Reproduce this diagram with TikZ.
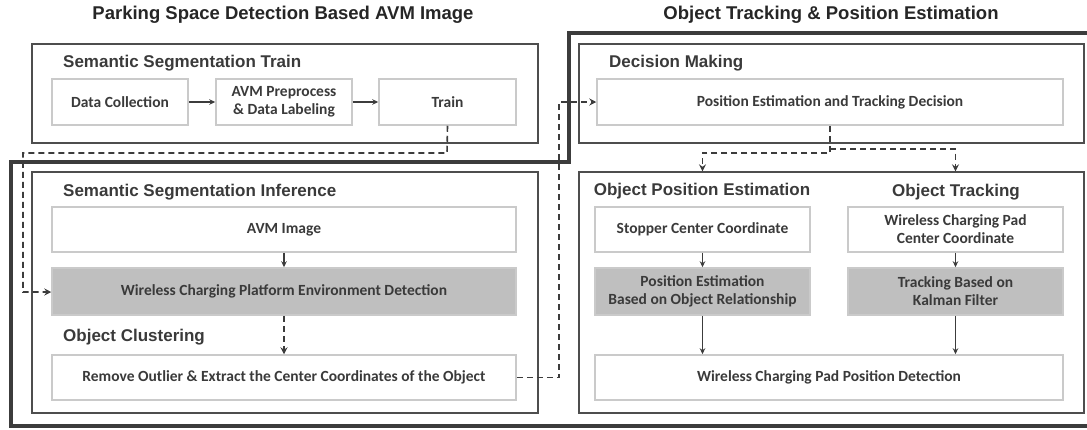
\documentclass[tikz,border=0pt]{standalone}
\usepackage{fontspec}
\setmainfont{Carlito}
\newfontfamily\arialfont{Liberation Sans}
\usetikzlibrary{arrows.meta}
\definecolor{thickc}{HTML}{3C3C3C}
\definecolor{grpc}{HTML}{4E4E4E}
\definecolor{iboxc}{HTML}{CACACA}
\definecolor{hfill}{HTML}{BFBFBF}
\definecolor{txtc}{HTML}{3A3A3A}
\tikzset{
  grp/.style={draw=grpc, line width=1.4pt, rectangle, inner sep=0pt},
  ibox/.style={draw=iboxc, line width=1.5pt, fill=white, rectangle, inner sep=0pt, align=center,
    text=txtc, font=\fontsize{15.5}{18}\selectfont\bfseries},
  hbox/.style={ibox, fill=hfill},
  gtitle/.style={text=txtc, inner sep=0pt, font=\arialfont\fontsize{17}{20}\selectfont\bfseries},
  mtitle/.style={text=black!85, inner sep=0pt, font=\arialfont\fontsize{18.5}{22}\selectfont\bfseries},
  arr/.style={draw=thickc, line width=1.2pt, -{Stealth[length=6pt,width=5.5pt]}},
  darr/.style={draw=thickc, line width=1.6pt, dash pattern=on 6pt off 4pt, -{Stealth[length=7pt,width=7pt,inset=2.5pt]}},
}
\begin{document}
\begin{tikzpicture}[x=1pt,y=-1pt]
\useasboundingbox (0,0) rectangle (1087,429);
% main titles
\node[mtitle] (t1) at (283,15) {Parking Space Detection Based AVM Image};
\node[mtitle] (t2) at (831,15) {Object Tracking \& Position Estimation};
% thick outline
\draw[thickc, line width=4pt, line join=miter] (11,162) -- (569,162) -- (569,33) -- (1100,33) -- (1100,426) -- (11,426) -- cycle;
% group boxes
\node[grp, minimum width=506pt, minimum height=99pt] (gtrain) at (285,93.5) {};
\node[grp, minimum width=506pt, minimum height=241pt] (ginf) at (285,292.5) {};
\node[grp, minimum width=505pt, minimum height=99pt] (gdec) at (831.5,93.5) {};
\node[grp, minimum width=505pt, minimum height=241pt] (grb) at (831.5,292.5) {};
% group titles
\node[gtitle, anchor=west] (tst) at (63,63) {Semantic Segmentation Train};
\node[gtitle, anchor=west] (tsi) at (63,192) {Semantic Segmentation Inference};
\node[gtitle, anchor=west] (toc) at (63,337) {Object Clustering};
\node[gtitle, anchor=west] (tdm) at (609,63) {Decision Making};
\node[gtitle] (tope) at (702,191) {Object Position Estimation};
\node[gtitle] (tot) at (956,192) {Object Tracking};
% inner boxes
\node[ibox, minimum width=136pt, minimum height=46pt] (dc) at (120,102) {Data Collection};
\node[ibox, minimum width=136pt, minimum height=46pt] (pre) at (284,102) {AVM Preprocess\\\& Data Labeling};
\node[ibox, minimum width=137pt, minimum height=46pt] (train) at (447.5,102) {Train};
\node[ibox, minimum width=464pt, minimum height=45pt] (avm) at (284,229.5) {AVM Image};
\node[hbox, minimum width=464pt, minimum height=47pt] (wcp) at (284,291.5) {Wireless Charging Platform Environment Detection};
\node[ibox, minimum width=464pt, minimum height=45pt] (rem) at (284,377.5) {Remove Outlier \& Extract the Center Coordinates of the Object};
\node[ibox, minimum width=466pt, minimum height=46pt] (ptd) at (830,102) {Position Estimation and Tracking Decision};
\node[ibox, minimum width=215pt, minimum height=45pt] (stop) at (702.5,229.5) {Stopper Center Coordinate};
\node[ibox, minimum width=215pt, minimum height=45pt] (wcpc) at (955.5,229.5) {Wireless Charging Pad\\Center Coordinate};
\node[hbox, minimum width=215pt, minimum height=47pt] (pe) at (702.5,291.5) {Position Estimation\\Based on Object Relationship};
\node[hbox, minimum width=215pt, minimum height=47pt] (tk) at (955.5,291.5) {Tracking Based on\\Kalman Filter};
\node[ibox, minimum width=468pt, minimum height=45pt] (fin) at (829,377.5) {Wireless Charging Pad Position Detection};
% solid arrows
\draw[arr] (dc) -- (pre);
\draw[arr] (pre) -- (train);
\draw[arr] (avm) -- (wcp);
\draw[arr] (stop) -- (pe);
\draw[arr] (wcpc) -- (tk);
\draw[arr] (pe) -- (pe |- fin.north);
\draw[arr] (tk) -- (tk |- fin.north);
% dashed arrows
\draw[darr] (wcp) -- (rem);
\draw[darr] (train.south) -- (447,153) -- (23,153) -- (23,292) -- (wcp.west |- 0,292);
\draw[darr] (rem.east) -- (559,377.5) -- (559,102) -- (ptd.west);
\coordinate (split) at (830,151);
\draw[darr] (ptd.south -| split) -- (830,153) -- (702.5,153) -- (pe.center |- grb.north);
\draw[darr] (830,149) -- (955.5,149) -- (tk.center |- grb.north);
\end{tikzpicture}
\end{document}
